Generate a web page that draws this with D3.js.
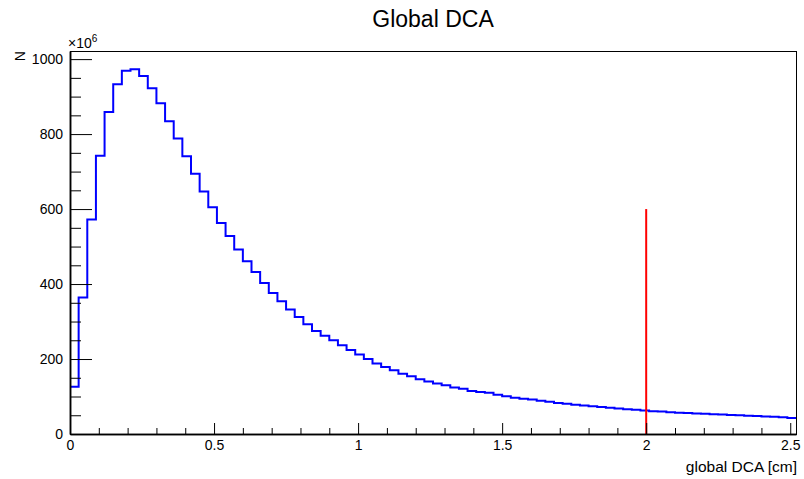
<!DOCTYPE html>
<html>
<head>
<meta charset="utf-8">
<script src="https://cdn.jsdelivr.net/npm/d3@7"></script>
<style>
  html, body { margin: 0; padding: 0; background: #fff; }
  svg { display: block; }
  text { font-family: "Liberation Sans", Arial, Helvetica, sans-serif; fill: #000; }
</style>
</head>
<body>
<div id="chart"></div>
<script>
// ---- data ----
const binStart = 0;          // cm
const binWidth = 0.03;       // cm
const counts = [ // in units of 10^6
  126, 364, 572, 742, 859, 933, 969, 973, 955, 922,
  882, 834, 788, 741, 694, 647, 605, 563, 528, 492,
  461, 432, 403, 376, 354, 332, 312, 293, 275, 262,
  250, 237, 224, 212, 200, 188, 179, 170, 161, 154,
  146, 140, 135, 130, 124, 121, 115, 112, 110, 105,
  101, 97, 94, 92, 89, 86, 83, 81, 78, 76,
  74, 72, 70, 68, 66, 65, 63, 61, 60, 58,
  57, 56, 55, 54, 53, 52, 51, 50, 49, 48,
  47, 46, 45, 43
];
const cutValue = 2.0;       // cm, red marker
const cutHeight = 600;      // 10^6
const xMajorTicks = [0, 0.5, 1, 1.5, 2, 2.5];
const xTickLabels = ["0", "0.5", "1", "1.5", "2", "2.5"];
const xMinorTicks = [0.1,0.2,0.3,0.4,0.6,0.7,0.8,0.9,1.1,1.2,1.3,1.4,1.6,1.7,1.8,1.9,2.1,2.2,2.3,2.4];
const yMajorTicks = [0, 200, 400, 600, 800, 1000];
const yMinorTicks = [50,100,150,250,300,350,450,500,550,650,700,750,850,900,950];
const titleText = "Global DCA";
const xTitle = "global DCA [cm]";
const yTitle = "N";

// ---- layout ----
const W = 804, H = 479;
const margin = { left: 70, right: 8, top: 51, bottom: 45 };
const iw = W - margin.left - margin.right;
const ih = H - margin.top - margin.bottom;

const xMax = binStart + binWidth * counts.length;
const yMax = 1.05 * d3.max(counts);

const x = d3.scaleLinear().domain([binStart, xMax]).range([0, iw]);
const y = d3.scaleLinear().domain([0, yMax]).range([ih, 0]);

const svg = d3.select("#chart").append("svg").attr("width", W).attr("height", H);
const g = svg.append("g").attr("transform", `translate(${margin.left},${margin.top})`);

// frame
g.append("rect").attr("x", 0).attr("y", 0).attr("width", iw).attr("height", ih)
  .attr("fill", "none").attr("stroke", "#000").attr("stroke-width", 1)
  .attr("shape-rendering", "crispEdges");

// histogram step line
const pts = [];
counts.forEach((c, i) => {
  const x0 = binStart + i * binWidth, x1 = x0 + binWidth;
  pts.push([x(x0), y(c)]);
  pts.push([x(x1), y(c)]);
});
g.append("path")
  .attr("d", d3.line()(pts))
  .attr("fill", "none").attr("stroke", "#0000ff").attr("stroke-width", 2)
  .attr("stroke-linejoin", "miter");

// red cut line
g.append("line")
  .attr("x1", x(cutValue)).attr("x2", x(cutValue))
  .attr("y1", y(0)).attr("y2", y(cutHeight))
  .attr("stroke", "#ff0000").attr("stroke-width", 2);

// axes
const fontTick = 14;
const xAxis = d3.axisBottom(x).tickValues(xMajorTicks)
  .tickFormat((d, i) => xTickLabels[i]).tickSizeInner(-11).tickSizeOuter(0).tickPadding(6);
const xMinor = d3.axisBottom(x).tickValues(xMinorTicks).tickFormat("").tickSizeInner(-6).tickSizeOuter(0);
const yAxis = d3.axisLeft(y).tickValues(yMajorTicks)
  .tickFormat(d3.format("d")).tickSizeInner(-22).tickSizeOuter(0).tickPadding(7);
const yMinor = d3.axisLeft(y).tickValues(yMinorTicks).tickFormat("").tickSizeInner(-11).tickSizeOuter(0);

function style(sel) {
  sel.select(".domain").attr("stroke", "#000").attr("stroke-width", 1.5);
  sel.selectAll(".tick line").attr("stroke", "#000").attr("stroke-width", 1);
  sel.selectAll(".tick text").attr("font-size", fontTick)
     .attr("font-family", '"Liberation Sans", Arial, sans-serif').attr("fill", "#000");
}
g.append("g").attr("transform", `translate(0,${ih})`).call(xMinor).call(style);
g.append("g").attr("transform", `translate(0,${ih})`).call(xAxis).call(style);
g.append("g").call(yMinor).call(style);
g.append("g").call(yAxis).call(style);

// title
svg.append("text").attr("x", margin.left + iw / 2).attr("y", 27)
  .attr("text-anchor", "middle").attr("font-size", 23).text(titleText);

// x-axis title
svg.append("text").attr("x", margin.left + iw + 1).attr("y", 472)
  .attr("text-anchor", "end").attr("font-size", 15.5).text(xTitle);

// y-axis title
svg.append("text").attr("transform", `translate(25,${margin.top}) rotate(-90)`)
  .attr("text-anchor", "end").attr("font-size", 14).text(yTitle);

// exponent
const ex = svg.append("text").attr("x", 68).attr("y", 48).attr("font-size", 14);
ex.append("tspan").text("\u00d710");
ex.append("tspan").attr("font-size", 10).attr("dy", -6).text("6");
</script>
</body>
</html>
